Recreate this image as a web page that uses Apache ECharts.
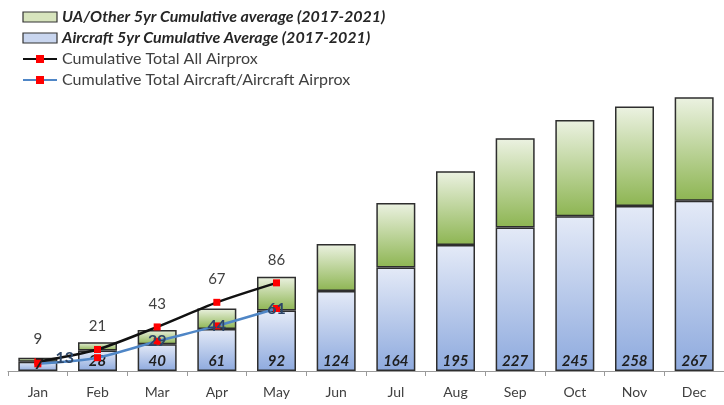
<!DOCTYPE html>
<html>
<head>
<meta charset="utf-8">
<script src="https://cdn.jsdelivr.net/npm/echarts@6/dist/echarts.min.js"></script>
<style>
  html, body { margin: 0; padding: 0; background: #fff; }
  #chart { width: 724px; height: 405px; }
</style>
</head>
<body>
<div id="chart"></div>
<script>
const months = ['Jan', 'Feb', 'Mar', 'Apr', 'May', 'Jun', 'Jul', 'Aug', 'Sep', 'Oct', 'Nov', 'Dec'];
// 5yr cumulative averages (stack total printed at bar base)
const totalAvg = [13, 28, 40, 61, 92, 124, 164, 195, 227, 245, 258, 267];
const aircraftAvg = [9, 20, 26, 41, 59, 78, 101, 123, 140, 151, 161, 166];
// 2022 cumulative totals so far
const allAirprox = [9, 21, 43, 67, 86];
const aircraftAirprox = [7, 13, 29, 44, 61];

const uaOtherAvg = totalAvg.map((t, i) => t - aircraftAvg[i]);

const FONT = 'Lato';
const grad = (top, bottom) => new echarts.graphic.LinearGradient(0, 0, 0, 1, [
  { offset: 0, color: top },
  { offset: 1, color: bottom }
]);

const chart = echarts.init(document.getElementById('chart'));

const option = {
  animation: false,
  textStyle: { fontFamily: FONT },
  legend: {
    orient: 'vertical',
    left: 22,
    top: 8,
    padding: 0,
    itemWidth: 34,
    itemHeight: 10,
    itemGap: 3,
    textStyle: { fontFamily: FONT, fontSize: 16, color: '#262626', lineHeight: 18 },
    data: [
      {
        name: 'UA/Other 5yr Cumulative average (2017-2021)',
        icon: 'rect',
        itemStyle: { color: '#d7e4bd', borderColor: '#333', borderWidth: 1.2 },
        textStyle: { fontWeight: 'bold', fontStyle: 'italic' }
      },
      {
        name: 'Aircraft 5yr Cumulative Average (2017-2021)',
        icon: 'rect',
        itemStyle: { color: '#c9d6ef', borderColor: '#333', borderWidth: 1.2 },
        textStyle: { fontWeight: 'bold', fontStyle: 'italic' }
      },
      { name: 'Cumulative Total All Airprox', textStyle: { color: '#404040' } },
      { name: 'Cumulative Total Aircraft/Aircraft Airprox', textStyle: { color: '#404040' } }
    ]
  },
  grid: { left: 8, right: 0, top: 84, bottom: 34 },
  xAxis: {
    type: 'category',
    data: months,
    axisLine: { lineStyle: { color: '#9a9a9a', width: 1 } },
    axisTick: { show: true, length: 5, lineStyle: { color: '#9a9a9a' } },
    axisLabel: { color: '#404040', fontSize: 14, margin: 14, fontFamily: FONT }
  },
  yAxis: {
    type: 'value',
    min: 0,
    max: 280,
    show: false,
    splitLine: { show: false }
  },
  series: [
    {
      name: 'Aircraft 5yr Cumulative Average (2017-2021)',
      type: 'bar',
      stack: 'avg',
      barWidth: 39,
      data: aircraftAvg.map((v, i) => ({ value: v, label: { show: i > 0 } })),
      itemStyle: {
        color: grad('#e4eaf7', '#8eaade'),
        borderColor: '#2e2e2e',
        borderWidth: 1.5
      },
      label: {
        show: true,
        position: 'insideBottom',
        distance: 2,
        fontSize: 15,
        fontWeight: 'bold',
        fontStyle: 'italic',
        color: '#1e1e1e',
        fontFamily: FONT,
        formatter: p => String(totalAvg[p.dataIndex])
      },
      labelLayout: { hideOverlap: false },
      z: 2
    },
    {
      name: 'UA/Other 5yr Cumulative average (2017-2021)',
      type: 'bar',
      stack: 'avg',
      barWidth: 39,
      data: uaOtherAvg,
      itemStyle: {
        color: grad('#ecf2e2', '#8db552'),
        borderColor: '#2e2e2e',
        borderWidth: 1.5
      },
      z: 2
    },
    {
      name: 'Cumulative Total All Airprox',
      type: 'line',
      data: allAirprox,
      smooth: 0.25,
      symbol: 'rect',
      symbolSize: 7,
      lineStyle: { color: '#111', width: 2.5 },
      itemStyle: { color: '#ff0000' },
      label: {
        show: true,
        position: 'top',
        distance: 12,
        fontSize: 15,
        color: '#404040',
        fontFamily: FONT
      },
      labelLayout: { hideOverlap: false },
      z: 4
    },
    {
      name: 'Cumulative Total Aircraft/Aircraft Airprox',
      type: 'line',
      data: aircraftAirprox.map((v, i) => ({
        value: v,
        label: i === 1
          ? { position: 'left', distance: 20 }
          : i === 0
            ? { position: 'right', distance: -7, fontStyle: 'italic', color: '#1e1e1e' }
            : { position: 'inside' }
      })),
      smooth: 0.25,
      symbol: 'rect',
      symbolSize: 7,
      lineStyle: { color: '#4f86c6', width: 2.5 },
      itemStyle: { color: '#ff0000' },
      label: {
        show: true,
        fontSize: 16,
        fontWeight: 'bold',
        color: '#2c4668',
        fontFamily: FONT
      },
      labelLayout: { hideOverlap: false },
      z: 5
    }
  ]
};

chart.setOption(option);
</script>
</body>
</html>
